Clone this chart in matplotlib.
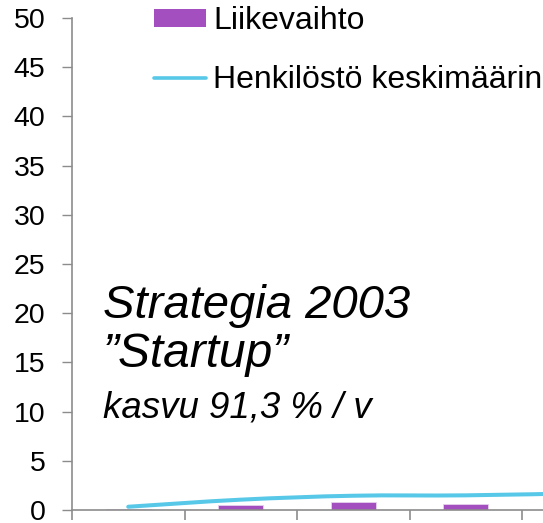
import matplotlib
matplotlib.use("Agg")
import matplotlib.pyplot as plt
from matplotlib.path import Path
from matplotlib.patches import PathPatch
from matplotlib.lines import Line2D
from matplotlib.patches import Patch
import numpy as np

plt.rcParams['font.family'] = ['Liberation Sans', 'DejaVu Sans']

# Data
categories = [1, 2, 3, 4, 5]
liikevaihto = [0.07, 0.55, 0.78, 0.65, 0.0]
henkilosto = [0.33, 1.05, 1.45, 1.49, 1.7]
yticks = [0, 5, 10, 15, 20, 25, 30, 35, 40, 45, 50]
legend_labels = ["Liikevaihto", "Henkilöstö keskimäärin"]
texts = ["Strategia 2003", "\u201dStartup\u201d", "kasvu 91,3 % / v"]

BAR_COLOR = "#A44FC0"
LINE_COLOR = "#58C8E8"
AXIS_COLOR = "#8C8C8C"

W, H = 543, 523
fig = plt.figure(figsize=(W / 100, H / 100), dpi=100)
left_px, right_px, top_px, bottom_px = 72, 634.5, 18, 510
ax = fig.add_axes([left_px / W, (H - bottom_px) / H,
                   (right_px - left_px) / W, (bottom_px - top_px) / H])

ax.bar(categories, liikevaihto, width=0.4, color=BAR_COLOR,
       edgecolor="#E6D2EE", linewidth=0.6, zorder=2)

# smooth line (Catmull-Rom -> cubic Bezier) through data points
x = np.array(categories, dtype=float)
y = np.array(henkilosto, dtype=float)
verts = [(x[0], y[0])]
codes = [Path.MOVETO]
n = len(x)
for i in range(n - 1):
    p0 = (x[max(i - 1, 0)], y[max(i - 1, 0)])
    p1 = (x[i], y[i])
    p2 = (x[i + 1], y[i + 1])
    p3 = (x[min(i + 2, n - 1)], y[min(i + 2, n - 1)])
    c1 = (p1[0] + (p2[0] - p0[0]) / 6, p1[1] + (p2[1] - p0[1]) / 6)
    c2 = (p2[0] - (p3[0] - p1[0]) / 6, p2[1] - (p3[1] - p1[1]) / 6)
    verts += [c1, c2, p2]
    codes += [Path.CURVE4] * 3
ax.add_patch(PathPatch(Path(verts, codes), facecolor='none',
                       edgecolor=LINE_COLOR, linewidth=2.9, zorder=3,
                       capstyle='round', clip_on=False))

ax.set_xlim(0.5, 5.5)
ax.set_ylim(0, 50)
ax.set_yticks(yticks)
ax.set_xticks(np.arange(0.5, 6.0, 1.0))
ax.set_xticklabels([])
for s in ['top', 'right']:
    ax.spines[s].set_visible(False)
for s in ['left', 'bottom']:
    ax.spines[s].set_color(AXIS_COLOR)
    ax.spines[s].set_linewidth(1.2)
ax.tick_params(axis='y', direction='out', length=7, width=1.0,
               color=AXIS_COLOR, labelsize=20.5, pad=12, labelcolor='black')
ax.tick_params(axis='x', direction='out', length=7, width=1.2,
               color=AXIS_COLOR)

handles = [Patch(facecolor=BAR_COLOR, edgecolor='none'),
           Line2D([0], [0], color=LINE_COLOR, linewidth=2.6,
                  solid_capstyle='round')]
leg = fig.legend(handles, legend_labels, loc='upper left',
                 bbox_to_anchor=(154 / W, 1 - 6 / H),
                 frameon=False, fontsize=23, handlelength=1.63,
                 handleheight=0.49, handletextpad=0.22, labelspacing=0.91,
                 borderpad=0, borderaxespad=0)

fig.text(103 / W, 1 - 318 / H, texts[0], fontsize=34, style='italic',
         va='baseline', ha='left')
fig.text(103 / W, 1 - 367 / H, texts[1], fontsize=34.5, style='italic',
         va='baseline', ha='left')
fig.text(103 / W, 1 - 417 / H, texts[2], fontsize=26.4, style='italic',
         va='baseline', ha='left')

fig.savefig("out.png", dpi=100)
